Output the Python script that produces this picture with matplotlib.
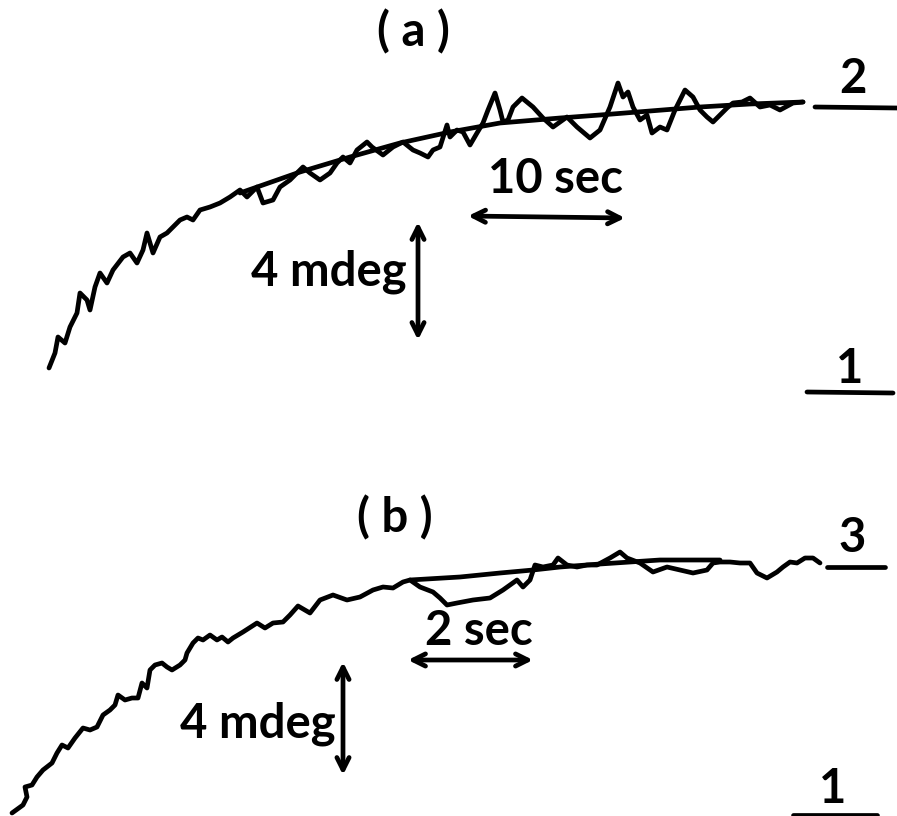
import numpy as np
import matplotlib.pyplot as plt

# trace (a): chart recorder output, picture units (x right, y down)
trace_a_x = [49, 55, 58, 65, 70, 77, 80, 87, 90, 95, 100, 107, 113, 123, 130, 137, 143, 147,
             153, 160, 167, 173, 180, 187, 193, 200, 210, 220, 230, 240, 247, 257, 263, 273,
             280, 290, 303, 310, 320, 330, 337, 343, 350, 357, 367, 372, 383, 393, 403, 413,
             420, 428, 433, 440, 447, 450, 457, 463, 470, 477, 483, 488, 495, 500, 503, 508,
             513, 522, 533, 543, 553, 567, 577, 590, 600, 610, 618, 623, 628, 633, 640, 647,
             652, 660, 667, 675, 685, 693, 700, 707, 713, 720, 727, 733, 742, 750, 760, 770,
             780, 793, 803]
trace_a_y = [368, 353, 337, 343, 327, 313, 293, 300, 310, 287, 273, 283, 270, 257, 253, 263, 250, 233,
             253, 237, 233, 227, 220, 217, 220, 210, 207, 203, 197, 190, 197, 187, 203, 200,
             187, 180, 167, 173, 180, 173, 163, 157, 163, 150, 142, 147, 155, 147, 142, 150,
             153, 157, 150, 147, 125, 137, 130, 132, 145, 133, 123, 110, 93, 110, 122, 120,
             107, 98, 107, 118, 127, 117, 127, 138, 130, 107, 83, 97, 92, 107, 120, 115,
             133, 127, 130, 110, 90, 97, 110, 117, 122, 115, 108, 103, 102, 98, 107, 105,
             110, 103, 102]
fit_a_x = [240, 300, 350, 400, 450, 500, 560, 600, 650, 700, 750, 803]
fit_a_y = [193, 172, 157, 143, 132, 123, 118, 115, 111, 107, 104, 102]

# trace (b)
trace_b_x = [12, 23, 27, 25, 32, 37, 43, 52, 57, 62, 68, 75, 83, 90, 97, 103, 110, 115, 118,
             125, 132, 138, 142, 147, 150, 155, 162, 167, 172, 180, 185, 187, 193, 198, 203,
             210, 217, 222, 228, 233, 243, 257, 265, 273, 283, 290, 298, 310, 320, 333, 347,
             360, 373, 383, 393, 403, 410, 420, 433, 440, 447, 457, 473, 490, 503, 517, 523,
             530, 535, 543, 553, 558, 567, 577, 587, 597, 610, 620, 627, 640, 653, 667, 680,
             693, 707, 713, 720, 730, 740, 750, 757, 767, 777, 783, 790, 797, 805, 813, 820]
trace_b_y = [813, 805, 797, 787, 785, 777, 770, 763, 753, 745, 748, 738, 728, 730, 727, 715, 710, 705, 695,
             700, 698, 698, 683, 688, 670, 665, 663, 667, 670, 665, 660, 653, 643, 638, 640,
             635, 640, 637, 642, 638, 632, 623, 628, 623, 622, 615, 606, 613, 600, 595, 600,
             597, 590, 587, 588, 582, 580, 587, 592, 598, 605, 603, 600, 598, 590, 580, 587,
             580, 565, 567, 565, 558, 565, 567, 565, 565, 558, 552, 558, 563, 572, 567, 570,
             573, 570, 563, 562, 562, 563, 563, 573, 578, 572, 567, 562, 563, 558, 558, 563]
fit_b_x = [410, 460, 500, 533, 560, 600, 660, 720]
fit_b_y = [580, 577, 573, 570, 567, 564, 560, 560]

fig = plt.figure(figsize=(8.97, 8.16), dpi=100)
ax = fig.add_axes([0, 0, 1, 1])
ax.set_xlim(0, 897)
ax.set_ylim(816, 0)
ax.axis('off')

lw = 3.4
kw = dict(color='black', lw=lw, solid_capstyle='round', solid_joinstyle='round')
ax.plot(trace_a_x, trace_a_y, **kw)
ax.plot(fit_a_x, fit_a_y, **kw)
ax.plot(trace_b_x, trace_b_y, **kw)
ax.plot(fit_b_x, fit_b_y, **kw)

# baseline markers
ax.plot([815, 897], [107, 108], **kw)
ax.plot([807, 893], [392, 393], **kw)
ax.plot([827, 885], [567, 567], **kw)
ax.plot([793, 877], [815, 815], **kw)

fs = 34
txt = dict(fontsize=fs, ha='center', va='baseline', family='Lato', fontweight='bold')
ax.text(413, 46, '( a )', **txt)
ax.text(395, 532, '( b )', **txt)
ax.text(853, 93, '2', **txt)
ax.text(850, 383, '1', **txt)
ax.text(852, 552, '3', **txt)
ax.text(833, 803, '1', **txt)
ax.text(555, 193, '10 sec', **txt)
ax.text(479, 645, '2 sec', **txt)
ax.text(329, 285, '4 mdeg', **txt)
ax.text(258, 738, '4 mdeg', **txt)

ap = dict(arrowstyle='<->', color='black', lw=lw, mutation_scale=22, shrinkA=0, shrinkB=0)
ax.annotate('', xy=(468, 216), xytext=(625, 218), arrowprops=ap)
ax.annotate('', xy=(418, 222), xytext=(418, 340), arrowprops=ap)
ax.annotate('', xy=(408, 660), xytext=(533, 660), arrowprops=ap)
ax.annotate('', xy=(343, 662), xytext=(343, 775), arrowprops=ap)

fig.savefig('out.png', dpi=100)
